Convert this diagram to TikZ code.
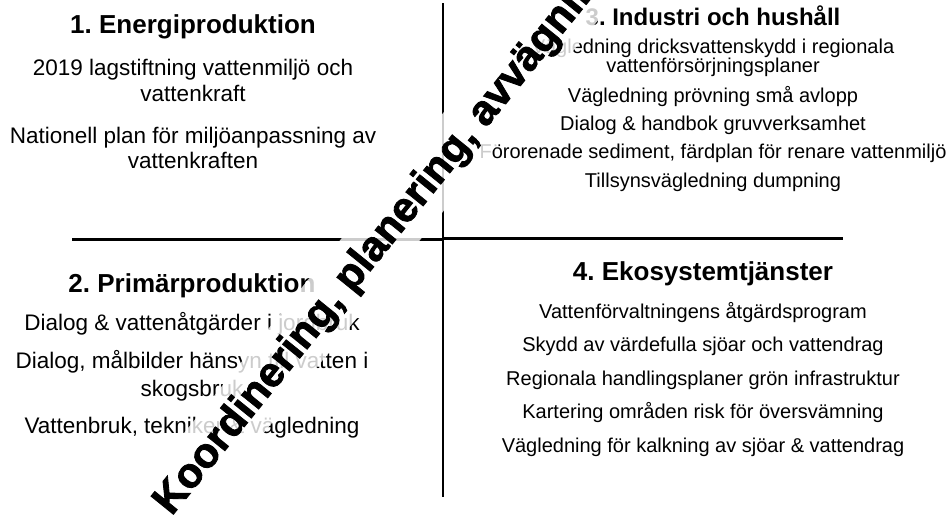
\documentclass[tikz,border=0pt]{standalone}
\usepackage{fontspec}
\setmainfont{Liberation Sans}
\newfontfamily\heavyfont[FakeBold=2]{Liberation Sans Bold}
\frenchspacing
\begin{document}
\begin{tikzpicture}[x=1pt,y=-1pt,
    head/.style={anchor=base,inner sep=0pt,font=\fontsize{26}{30}\selectfont\bfseries},
    txtbig/.style={anchor=base,inner sep=0pt,font=\fontsize{22.5}{26}\selectfont},
    txt/.style={anchor=base,inner sep=0pt,font=\fontsize{20}{24}\selectfont}]
        \useasboundingbox (0,0) rectangle (950,514);
        %% quadrant lines
        \draw[line width=2.7pt] (443,3) -- (443,497);
        \draw[line width=3pt] (72,239) -- (443,239);
        \draw[line width=3pt] (443,238) -- (843,238);
        %% 1. energiproduktion
        \node[head] (e0) at (193,33) {1. Energiproduktion};
        \node[txtbig] (e1) at (193,75) {2019 lagstiftning vattenmiljö och};
        \node[txtbig] (e2) at (193,101) {vattenkraft};
        \node[txtbig] (e3) at (193,143) {Nationell plan för miljöanpassning av};
        \node[txtbig] (e4) at (193,168) {vattenkraften};
        %% 2. primärproduktion
        \node[head] (p0) at (192,292) {2. Primärproduktion};
        \node[txtbig] (p1) at (192,330) {Dialog \& vattenåtgärder i jordbruk};
        \node[txtbig] (p2) at (192,368) {Dialog, målbilder hänsyn till vatten i};
        \node[txtbig] (p3) at (192,396) {skogsbruk};
        \node[txtbig] (p4) at (192,433) {Vattenbruk, tekniker \& vägledning};
        %% 3. industri och hushåll
        \node[head,font=\fontsize{24}{28}\selectfont\bfseries] (i0) at (713,25) {3. Industri och hushåll};
        \node[txt] (i1) at (713,53) {Vägledning dricksvattenskydd i regionala};
        \node[txt] (i2) at (713,72) {vattenförsörjningsplaner};
        \node[txt] (i3) at (713,102) {Vägledning prövning små avlopp};
        \node[txt] (i4) at (713,130) {Dialog \& handbok gruvverksamhet};
        \node[txt] (i5) at (713,158) {Förorenade sediment, färdplan för renare vattenmiljö};
        \node[txt] (i6) at (713,187) {Tillsynsvägledning dumpning};
        %% 4. ekosystemtjänster
        \node[head] (k0) at (703,280) {4. Ekosystemtjänster};
        \node[txt] (k1) at (703,318) {Vattenförvaltningens åtgärdsprogram};
        \node[txt] (k2) at (703,351) {Skydd av värdefulla sjöar och vattendrag};
        \node[txt] (k3) at (703,385) {Regionala handlingsplaner grön infrastruktur};
        \node[txt] (k4) at (703,418) {Kartering områden risk för översvämning};
        \node[txt] (k5) at (703,452) {Vägledning för kalkning av sjöar \& vattendrag};
        %% diagonal band
        \node[rotate=51,anchor=base west,fill=white,fill opacity=0.8,text opacity=1,
              inner xsep=12pt,inner ysep=0pt,font=\fontsize{42}{48}\heavyfont]
              (koord) at (164,526) {\raisebox{0pt}[43pt][19pt]{Koordinering, planering, avvägning}};
    \end{tikzpicture}
\end{document}
